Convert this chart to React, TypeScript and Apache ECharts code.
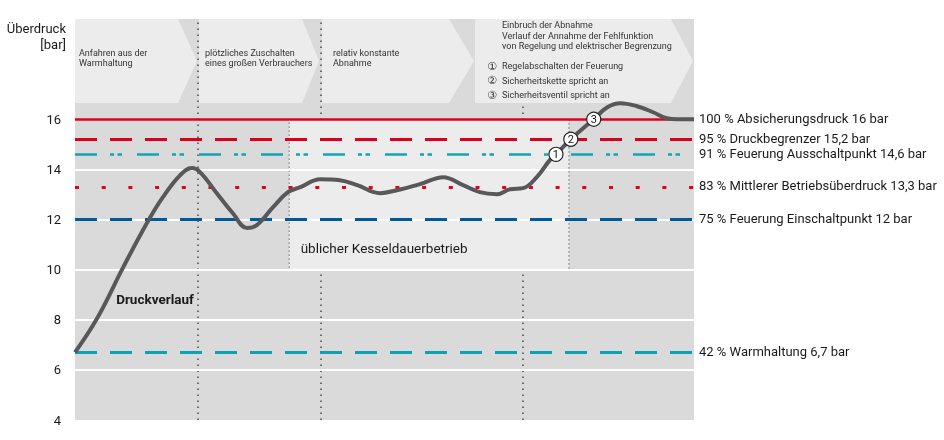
import React, { useEffect, useRef } from "react";
import * as echarts from "echarts";

// ---- data ----
const yTickMax = 16;
const gridValues = [6, 8, 10, 12, 14];
const phaseBounds = [19.9, 39.7, 72.4];
const normalBandX = [34.6, 79.8];
const normalBandY = [10, 16];
const normalBandLabel = "üblicher Kesseldauerbetrieb";

const curveX = [0, 3.6, 7.8, 11.6, 14.2, 17.0, 18.9, 20.2, 22.9, 25.5, 27.8, 29.4, 32.0, 34.4, 36.4, 39.6, 42.8, 45.6, 49.3, 52.0, 55.7, 59.5, 62.7, 65.4, 68.2, 70.3, 72.4, 74.6, 76.7, 77.7, 80.1, 83.8, 86.0, 88.1, 90.8, 93.4, 95.6, 97.3, 100];
const curveY = [6.7, 8.07, 10.1, 11.85, 12.89, 13.77, 14.05, 13.89, 13.05, 12.25, 11.66, 11.78, 12.49, 13.09, 13.29, 13.61, 13.57, 13.37, 13.05, 13.17, 13.41, 13.69, 13.37, 13.09, 13.01, 13.21, 13.25, 13.69, 14.37, 14.6, 15.2, 16.0, 16.48, 16.64, 16.52, 16.28, 16.04, 16.0, 16.0];
const curveLabel = "Druckverlauf";

const refValues = [16, 15.2, 14.6, 13.3, 12, 6.7];
const refLabels = [
  "100 % Absicherungsdruck 16 bar",
  "95 % Druckbegrenzer 15,2 bar",
  "91 % Feuerung Ausschaltpunkt 14,6 bar",
  "83 % Mittlerer Betriebsüberdruck 13,3 bar",
  "75 % Feuerung Einschaltpunkt 12 bar",
  "42 % Warmhaltung 6,7 bar",
];

const markerX = [77.7, 80.1, 83.8];
const markerY = [14.6, 15.2, 16.0];
const markerLabels = ["1", "2", "3"];

const phaseTexts = [
  "Anfahren aus der\nWarmhaltung",
  "plötzliches Zuschalten\neines großen Verbrauchers",
  "relativ konstante\nAbnahme",
  "Einbruch der Abnahme\nVerlauf der Annahme der Fehlfunktion\nvon Regelung und elektrischer Begrenzung",
];
const legendNums = ["①", "②", "③"];
const legendItems = ["Regelabschalten der Feuerung", "Sicherheitskette spricht an", "Sicherheitsventil spricht an"];

// ---- styles ----
const FONT = 'Roboto, "DejaVu Sans", "Noto Sans CJK SC", sans-serif';
const refStyles = [
  { color: "#e2001a", width: 2.5, type: "solid" as any },
  { color: "#d8001c", width: 3, type: [22, 13] },
  { color: "#0fa5b5", width: 2.5, type: [22, 13, 4, 3.5, 4.5, 15] },
  { color: "#e2001a", width: 3, type: [4, 22.7] },
  { color: "#00599a", width: 3, type: [22, 13] },
  { color: "#0aa3b3", width: 3, type: [22, 13] },
];
const boxes = [
  { l: 75, r: 178, tip: 197 },
  { l: 199, r: 302, tip: 319 },
  { l: 322, r: 449, tip: 474 },
  { l: 475, r: 671, tip: 693 },
];
const boxTop = 19;
const boxBottom = 103;

export default function App() {
  const ref = useRef<HTMLDivElement>(null);
  useEffect(() => {
    if (!ref.current) return;
    const chart = echarts.init(ref.current, undefined, { renderer: "svg" });
    const mid = (boxTop + boxBottom) / 2;
    const graphics: any[] = [];
    boxes.forEach((b) => {
      graphics.push({
        type: "polygon",
        z: 2,
        silent: true,
        shape: { points: [[b.l, boxTop], [b.r, boxTop], [b.tip, mid], [b.r, boxBottom], [b.l, boxBottom]] },
        style: { fill: "#ececec" },
      });
    });
    const txtPos = [
      [79, 48],
      [205, 48],
      [333, 48],
    ];
    txtPos.forEach((p, i) => {
      graphics.push({
        type: "text",
        z: 3,
        x: p[0],
        y: p[1],
        style: { text: phaseTexts[i], font: `9px ${FONT}`, fill: "#333", lineHeight: 10, verticalAlign: "top" },
      });
    });
    graphics.push({
      type: "text",
      z: 3,
      x: 502,
      y: 20,
      style: { text: phaseTexts[3], font: `9px ${FONT}`, fill: "#333", lineHeight: 10.5, verticalAlign: "top" },
    });
    const legY = [66, 80.5, 95];
    legendItems.forEach((t, i) => {
      graphics.push({
        type: "text",
        z: 3,
        x: 492,
        y: legY[i],
        style: { text: legendNums[i], font: `11px ${FONT}`, fill: "#333", align: "center", verticalAlign: "middle" },
      });
      graphics.push({
        type: "text",
        z: 3,
        x: 502,
        y: legY[i],
        style: { text: t, font: `9px ${FONT}`, fill: "#333", verticalAlign: "middle" },
      });
    });
    graphics.push({
      type: "text",
      z: 3,
      x: 66,
      y: 20,
      style: { text: "Überdruck\n[bar]", font: `13px ${FONT}`, fill: "#1a1a1a", lineHeight: 16, align: "right", verticalAlign: "top" },
    });
    graphics.push({
      type: "text",
      z: 7,
      x: 155,
      y: 299,
      style: { text: curveLabel, font: `bold 13.5px ${FONT}`, fill: "#1a1a1a", align: "center", verticalAlign: "middle" },
    });

    const series: any[] = [];
    series.push({
      type: "line",
      z: 1,
      data: [],
      markLine: {
        z: 1,
        silent: true,
        symbol: "none",
        label: { show: false },
        lineStyle: { color: "#4a4a4a", width: 1.5, type: [1.5, 4.5] },
        data: phaseBounds.map((x) => ({ xAxis: x })),
      },
    });
    series.push({
      type: "line",
      z: 2,
      data: [],
      markArea: {
        z: 2,
        silent: true,
        itemStyle: { color: "#ececec", borderColor: "#333", borderWidth: 1, borderType: [1, 3] },
        label: { show: true, position: [12, 122], color: "#1a1a1a", fontSize: 13.5, fontFamily: FONT, verticalAlign: "top" },
        data: [[{ name: normalBandLabel, xAxis: normalBandX[0], yAxis: normalBandY[1] }, { xAxis: normalBandX[1], yAxis: normalBandY[0] }]],
      },
    });
    series.push({
      type: "line",
      z: 3,
      data: [],
      markLine: {
        z: 3,
        silent: true,
        symbol: "none",
        label: { show: false },
        lineStyle: { color: "#ffffff", width: 2, type: "solid" },
        data: gridValues.map((v) => ({ yAxis: v })),
      },
    });
    refValues.forEach((v, i) => {
      series.push({
        type: "line",
        z: 4,
        data: [],
        markLine: {
          z: 4,
          silent: true,
          symbol: "none",
          lineStyle: { color: refStyles[i].color, width: refStyles[i].width, type: refStyles[i].type, cap: "butt" },
          label: {
            show: true,
            position: "end",
            distance: 5,
            formatter: refLabels[i],
            color: "#1a1a1a",
            fontSize: 13,
            fontFamily: FONT,
            offset: [0, -1],
          },
          data: [{ yAxis: v }],
        },
      });
    });
    series.push({
      type: "line",
      z: 5,
      smooth: 0.4,
      symbol: "none",
      lineStyle: { color: "#58585a", width: 4 },
      data: curveX.map((x, i) => [x, curveY[i]]),
    });
    series.push({
      type: "scatter",
      z: 6,
      symbolSize: 14,
      itemStyle: { color: "#ffffff", borderColor: "#222", borderWidth: 1.2, opacity: 1 },
      label: {
        show: true,
        position: "inside",
        formatter: (p: any) => markerLabels[p.dataIndex],
        color: "#111",
        fontSize: 11,
        fontFamily: FONT,
      },
      data: markerX.map((x, i) => [x, markerY[i]]),
    });

    chart.setOption({
      animation: false,
      grid: { left: 75, right: 250, top: 19, bottom: 20, show: true, backgroundColor: "#dadada", borderWidth: 0 },
      xAxis: { type: "value", min: 0, max: 100, show: false },
      yAxis: {
        type: "value",
        min: 4,
        max: 20,
        interval: 2,
        axisLine: { show: false },
        axisTick: { show: false },
        splitLine: { show: false },
        axisLabel: {
          formatter: (v: number) => (v <= yTickMax ? String(v) : ""),
          color: "#1a1a1a",
          fontSize: 13,
          fontFamily: FONT,
          margin: 14,
        },
      },
      graphic: graphics,
      series,
    });
    return () => chart.dispose();
  }, []);
  return <div ref={ref} style={{ position: "fixed", left: 0, top: 0, width: 944, height: 440 }} />;
}
